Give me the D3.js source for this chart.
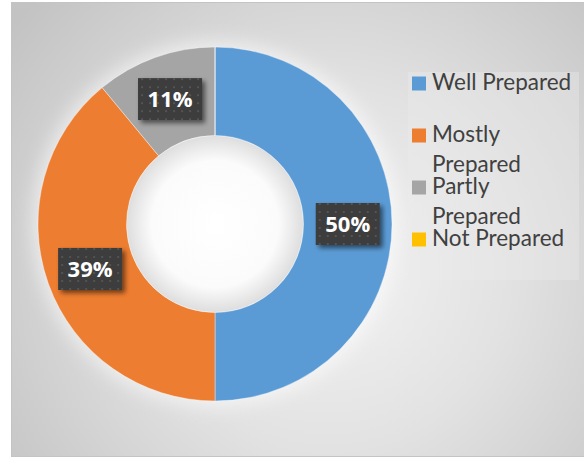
<!DOCTYPE html>
<html>
<head>
<meta charset="utf-8">
<script src="https://cdn.jsdelivr.net/npm/d3@7"></script>
<style>
  html, body { margin: 0; padding: 0; background: #ffffff; }
  svg { display: block; }
</style>
</head>
<body>
<div id="chart"></div>
<script>
// Preparedness survey: share of respondents per category
const categories = ["Well Prepared", "Mostly Prepared", "Partly Prepared", "Not Prepared"];
const shares = [50, 39, 11, 0];
const valueLabels = ["50%", "39%", "11%", ""];
// legend text split the way it wraps in the legend box
const legendLines = [["Well Prepared"], ["Mostly", "Prepared"], ["Partly", "Prepared"], ["Not Prepared"]];
const colors = ["#5b9bd5", "#ed7d31", "#a5a5a5", "#ffc000"];

const W = 584, H = 459;
const cx = 215, cy = 224;
const outerR = 177, innerR = 88.5;

const svg = d3.select("#chart").append("svg")
  .attr("width", W).attr("height", H);

const defs = svg.append("defs");

// chart-area background: soft gray radial gradient
const bg = defs.append("radialGradient")
  .attr("id", "bgGrad")
  .attr("gradientUnits", "userSpaceOnUse")
  .attr("cx", 330).attr("cy", 270).attr("r", 400);
bg.append("stop").attr("offset", 0).attr("stop-color", "#f3f3f3");
bg.append("stop").attr("offset", 0.45).attr("stop-color", "#e2e2e2");
bg.append("stop").attr("offset", 1).attr("stop-color", "#c3c3c3");

// hole: white centre fading to gray at the rim
const hole = defs.append("radialGradient").attr("id", "holeGrad");
hole.append("stop").attr("offset", 0).attr("stop-color", "#ffffff");
hole.append("stop").attr("offset", 0.72).attr("stop-color", "#fbfbfb");
hole.append("stop").attr("offset", 1).attr("stop-color", "#dedede");

const glow = defs.append("filter").attr("id", "glow")
  .attr("x", "-30%").attr("y", "-30%").attr("width", "160%").attr("height", "160%");
glow.append("feGaussianBlur").attr("stdDeviation", 9);

// drop shadow for the value-label boxes
const shadow = defs.append("filter").attr("id", "boxShadow")
  .attr("x", "-30%").attr("y", "-30%").attr("width", "170%").attr("height", "170%");
shadow.append("feGaussianBlur").attr("in", "SourceAlpha").attr("stdDeviation", 2.5).attr("result", "b");
shadow.append("feOffset").attr("in", "b").attr("dx", 3).attr("dy", 3).attr("result", "o");
shadow.append("feComponentTransfer").attr("in", "o").attr("result", "s")
  .append("feFuncA").attr("type", "linear").attr("slope", 0.55);
const merge = shadow.append("feMerge");
merge.append("feMergeNode").attr("in", "s");
merge.append("feMergeNode").attr("in", "SourceGraphic");

// dotted texture for the label boxes
const pat = defs.append("pattern").attr("id", "dots")
  .attr("patternUnits", "userSpaceOnUse")
  .attr("width", 8).attr("height", 8);
pat.append("rect").attr("width", 8).attr("height", 8).attr("fill", "#3d3d3d");
pat.append("circle").attr("cx", 4).attr("cy", 4).attr("r", 1.1).attr("fill", "#575757");

// chart area
svg.append("rect")
  .attr("x", 11.5).attr("y", 2.5)
  .attr("width", W).attr("height", 454)
  .attr("fill", "url(#bgGrad)")
  .attr("stroke", "#c4c4c4").attr("stroke-width", 1);

// legend panel
svg.append("rect")
  .attr("x", 408).attr("y", 72)
  .attr("width", 171).attr("height", 208)
  .attr("fill", "#ececec").attr("opacity", 0.4);

const g = svg.append("g").attr("transform", `translate(${cx},${cy})`);

// soft light halo behind the ring
g.append("circle").attr("r", outerR + 6)
  .attr("fill", "#ffffff").attr("opacity", 0.55)
  .attr("filter", "url(#glow)");

const pie = d3.pie().sort(null).value(d => d)(shares);
const arc = d3.arc().innerRadius(innerR).outerRadius(outerR);

g.selectAll("path.slice")
  .data(pie)
  .join("path")
  .attr("class", "slice")
  .attr("d", arc)
  .attr("fill", (d, i) => colors[i])
  .attr("stroke", "#ffffff")
  .attr("stroke-opacity", 0.5)
  .attr("stroke-width", 0.75);

g.append("circle").attr("r", innerR - 0.5).attr("fill", "url(#holeGrad)");

// value labels in dark boxes at each slice centroid
const boxW = 64, boxH = 42;
const labels = g.selectAll("g.lab")
  .data(pie.filter(d => d.data > 0))
  .join("g")
  .attr("class", "lab")
  .attr("transform", d => { const [x, y] = arc.centroid(d); return `translate(${x},${y})`; });

labels.append("rect")
  .attr("x", -boxW / 2).attr("y", -boxH / 2)
  .attr("width", boxW).attr("height", boxH)
  .attr("fill", "url(#dots)")
  .attr("filter", "url(#boxShadow)");

labels.append("text")
  .attr("text-anchor", "middle")
  .attr("dy", "0.36em")
  .attr("font-family", "'Open Sans', Lato, sans-serif")
  .attr("font-weight", 700)
  .attr("font-size", 22)
  .attr("fill", "#ffffff")
  .text(d => valueLabels[d.index]);

// legend
const legendY = d3.scalePoint().domain(categories).range([90, 246]);
const lineGap = 29.5;
const items = svg.selectAll("g.leg")
  .data(categories)
  .join("g")
  .attr("class", "leg")
  .attr("transform", d => `translate(412,${legendY(d)})`);

items.append("rect")
  .attr("x", 0).attr("y", -13.5)
  .attr("width", 14).attr("height", 14)
  .attr("fill", (d, i) => colors[i]);

items.append("text")
  .attr("x", 20)
  .attr("font-family", "Lato, 'Open Sans', sans-serif")
  .attr("font-size", 22.5)
  .attr("fill", "#404040")
  .selectAll("tspan")
  .data((d, i) => legendLines[i])
  .join("tspan")
  .attr("x", 20)
  .attr("y", (t, j) => j * lineGap)
  .text(t => t);
</script>
</body>
</html>
